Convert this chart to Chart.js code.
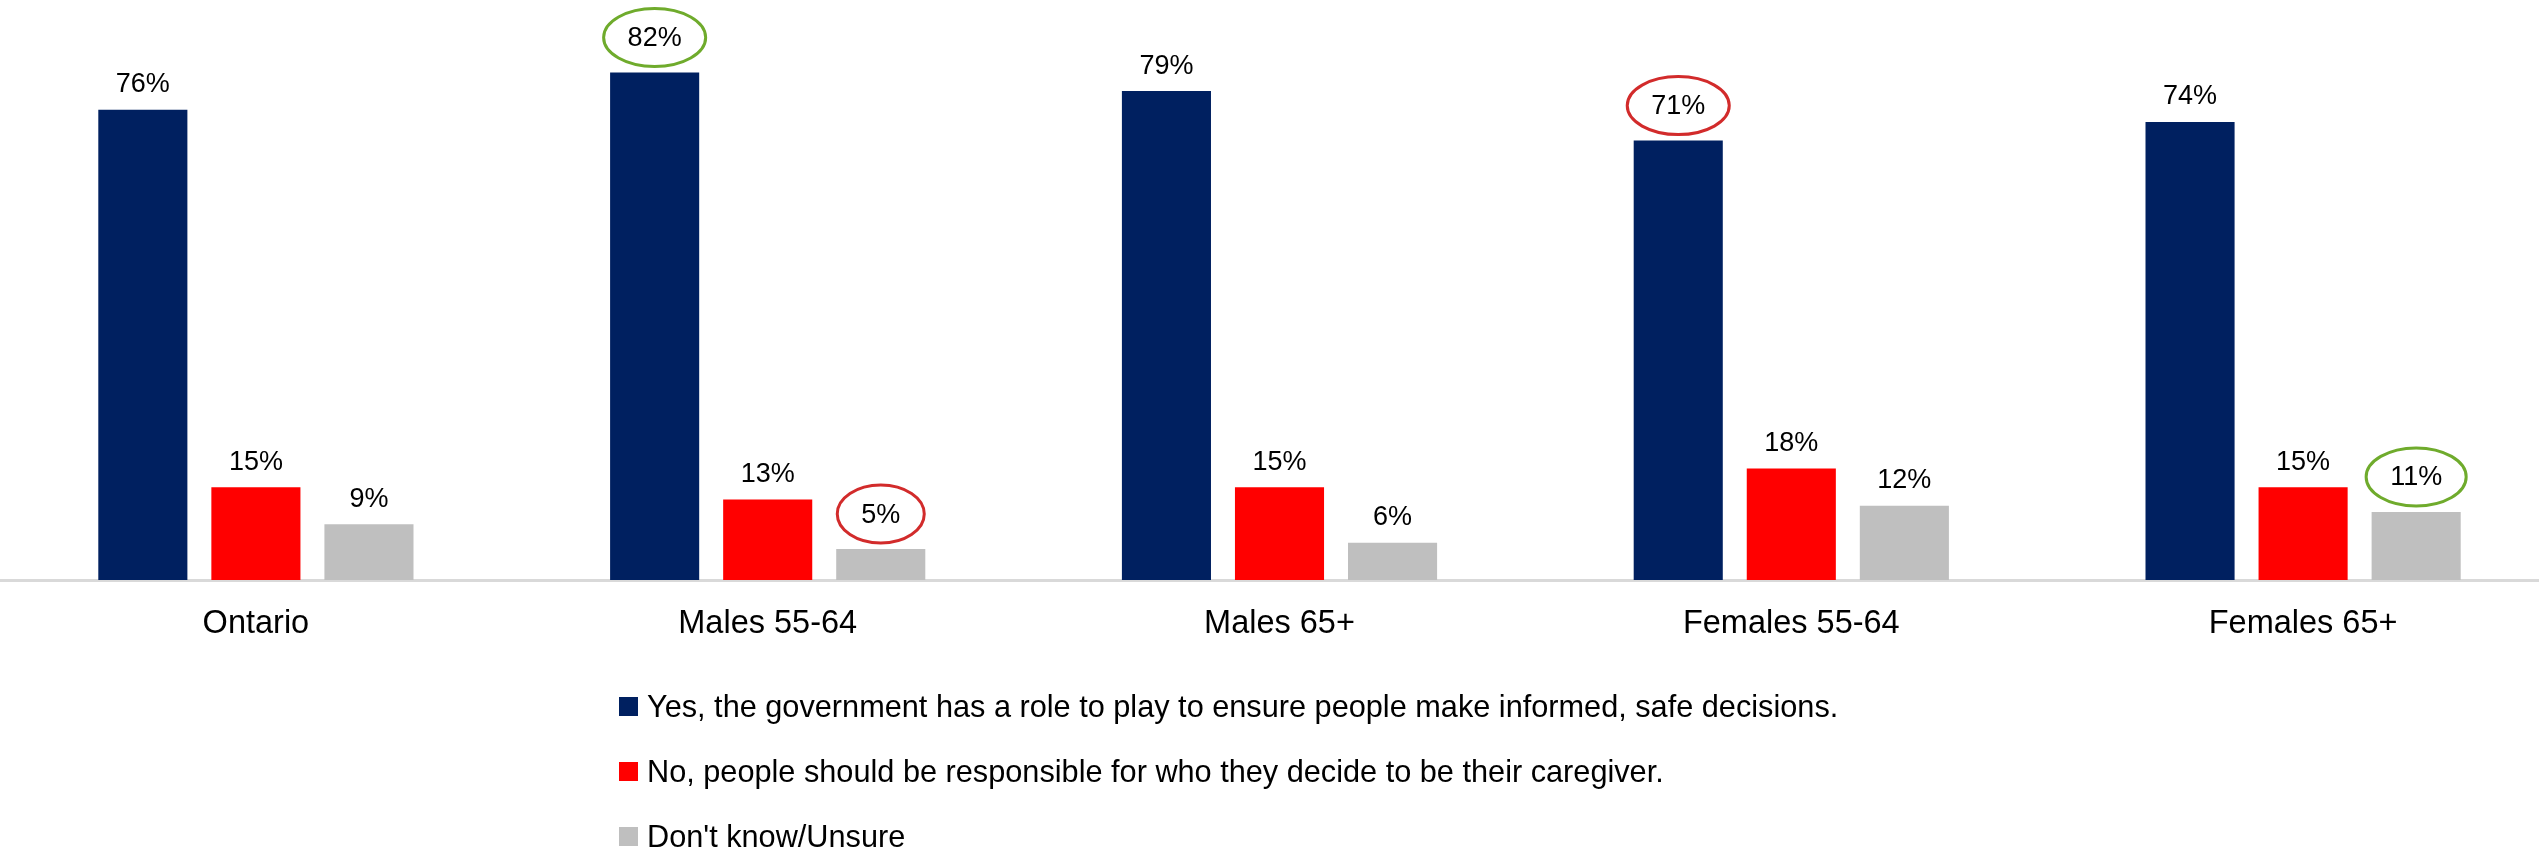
<!DOCTYPE html>
<html>
<head>
<meta charset="utf-8">
<script src="https://cdn.jsdelivr.net/npm/chart.js@4.4.1/dist/chart.umd.min.js"></script>
<style>
  html, body { margin: 0; padding: 0; background: #ffffff; overflow: hidden; }
  #wrap { position: relative; width: 2559px; height: 852px; }
  #legend { position: absolute; left: 619px; top: 688px; font-family: "Liberation Sans", Arial, sans-serif; font-size: 30.7px; color: #000; }
  .li { position: relative; height: 65px; line-height: 38px; white-space: nowrap; }
  .sw { position: absolute; left: 0; top: 9px; width: 19px; height: 19px; }
  .tx { position: absolute; left: 28px; top: 0; }
</style>
</head>
<body>
<div id="wrap">
  <canvas id="c" width="2559" height="852"></canvas>
  <div id="legend"></div>
</div>
<script>
const categories = ["Ontario", "Males 55-64", "Males 65+", "Females 55-64", "Females 65+"];
const seriesNames = [
  "Yes, the government has a role to play to ensure people make informed, safe decisions.",
  "No, people should be responsible for who they decide to be their caregiver.",
  "Don't know/Unsure"
];
const yesValues = [76, 82, 79, 71, 74];
const noValues = [15, 13, 15, 18, 15];
const unsureValues = [9, 5, 6, 12, 11];
// circled labels: [series index, category index, colour kind]
const highlights = [
  [0, 1, "high"],
  [2, 1, "low"],
  [0, 3, "low"],
  [2, 4, "high"]
];

const colors = ["#002060", "#ff0000", "#bfbfbf"];
const ringColors = { high: "#6fab2c", low: "#d22b2b" };
const allValues = [yesValues, noValues, unsureValues];

const labelPlugin = {
  id: "valueLabels",
  afterDatasetsDraw(chart) {
    const ctx = chart.ctx;
    ctx.save();
    ctx.font = "27px 'Liberation Sans', Arial, sans-serif";
    ctx.fillStyle = "#000";
    ctx.textAlign = "center";
    ctx.textBaseline = "middle";
    chart.data.datasets.forEach((ds, di) => {
      const meta = chart.getDatasetMeta(di);
      meta.data.forEach((bar, i) => {
        const hl = highlights.find(h => h[0] === di && h[1] === i);
        const txt = ds.data[i] + "%";
        const y = bar.y - (hl ? 35 : 26);
        ctx.fillText(txt, bar.x, y + 1);
        if (hl) {
          const w = ctx.measureText(txt).width;
          ctx.beginPath();
          ctx.lineWidth = 3;
          ctx.strokeStyle = ringColors[hl[2]];
          ctx.ellipse(bar.x, y, w / 2 + 24, 29, 0, 0, Math.PI * 2);
          ctx.stroke();
        }
      });
    });
    ctx.restore();
  }
};

const chart = new Chart(document.getElementById("c"), {
  type: "bar",
  data: {
    labels: categories,
    datasets: seriesNames.map((name, k) => ({
      label: name,
      data: allValues[k],
      backgroundColor: colors[k],
      borderWidth: 0,
      categoryPercentage: 0.6627,
      barPercentage: 0.788
    }))
  },
  options: {
    responsive: false,
    devicePixelRatio: 1,
    animation: false,
    layout: { padding: { top: 23, bottom: 183, left: 0, right: 0 } },
    plugins: { legend: { display: false }, tooltip: { enabled: false } },
    scales: {
      x: {
        grid: { display: false, drawTicks: false },
        border: { display: true, color: "#d9d9d9", width: 3 },
        ticks: { color: "#000", padding: 25, font: { family: "'Liberation Sans', Arial, sans-serif", size: 32.5 } }
      },
      y: {
        display: false,
        min: 0,
        max: 90
      }
    }
  },
  plugins: [labelPlugin]
});

const legend = document.getElementById("legend");
chart.data.datasets.forEach(ds => {
  const li = document.createElement("div");
  li.className = "li";
  const sw = document.createElement("span");
  sw.className = "sw";
  sw.style.background = ds.backgroundColor;
  const tx = document.createElement("span");
  tx.className = "tx";
  tx.textContent = ds.label;
  li.appendChild(sw);
  li.appendChild(tx);
  legend.appendChild(li);
});
</script>
</body>
</html>
